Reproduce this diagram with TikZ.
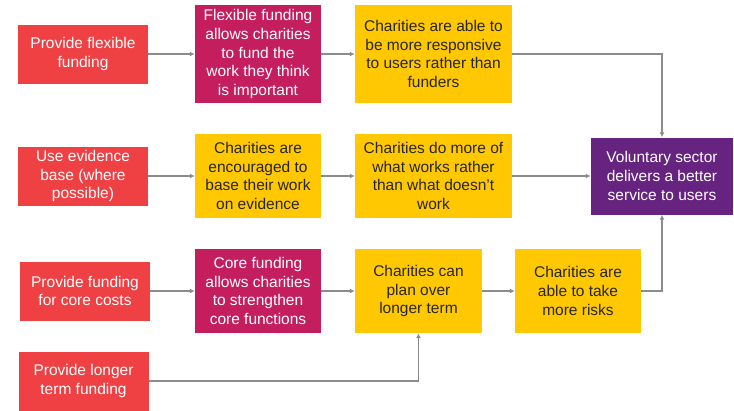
\documentclass[tikz,border=0pt]{standalone}
\usepackage{fontspec}
\setmainfont{Liberation Sans}
\usepackage{xcolor}
\usetikzlibrary{arrows.meta}
\usetikzlibrary{math}
\definecolor{myred}{RGB}{239,64,68}
\definecolor{mymagenta}{RGB}{196,30,94}
\definecolor{myyellow}{RGB}{255,200,0}
\definecolor{mypurple}{RGB}{102,36,128}
\definecolor{mygray}{RGB}{140,140,140}

\begin{document}
\begin{tikzpicture}[x=1pt,y=-1pt,
box/.style={align=center,inner sep=0pt,font=\fontsize{15.5}{18.6}\selectfont,minimum height=84pt},
input/.style={box,fill=myred,text=white,minimum width=130pt,minimum height=59pt},
mech/.style={box,fill=mymagenta,text=white,minimum width=126pt},
result/.style={box,fill=myyellow,text=black!85,minimum width=126pt},
final/.style={box,fill=mypurple,text=white,minimum width=142pt,minimum height=77pt},
link/.style={draw=mygray,line width=1.5pt,-{Latex[length=5pt,width=5pt]}}
]
\tikzmath{
\ra=54;
\rb=176;
\rc=291;
}
\useasboundingbox (0,0) rectangle (734,410);

% inputs
\node[input] (flex) at (83,\ra) {Provide flexible\\funding};
\node[input] (evid) at (83,\rb) {Use evidence\\base (where\\possible)};
\node[input] (core) at (85,\rc) {Provide funding\\for core costs};
\node[input] (long) at (83.5,381) {Provide longer\\term funding};

% middle column
\node[mech,minimum height=98pt] (flexfund) at (258,\ra) {Flexible funding\\allows charities\\to fund the\\work they think\\is important};
\node[result] (encour) at (258,\rb) {Charities are\\encouraged to\\base their work\\on evidence};
\node[mech] (corefund) at (258,\rc) {Core funding\\allows charities\\to strengthen\\core functions};

\node[result,minimum width=157pt,minimum height=98pt] (respons) at (433.5,\ra) {Charities are able to\\be more responsive\\to users rather than\\funders};
\node[result,minimum width=157pt] (works) at (433.5,\rb) {Charities do more of\\what works rather\\than what doesn't\\work};
\node[result,minimum width=127pt] (plan) at (418.5,\rc) {Charities can\\plan over\\longer term};
\node[result] (risks) at (578,\rc) {Charities are\\able to take\\more risks};

\node[final] (better) at (662,\rb) {Voluntary sector\\delivers a better\\service to users};

\draw[link] (flex) -- (flexfund);
\draw[link] (flexfund) -- (respons);
\draw[link] (respons.east) -| (better.north);

\draw[link] (evid) -- (encour);
\draw[link] (encour) -- (works);
\draw[link] (works) -- (better);

\draw[link] (core) -- (corefund);
\draw[link] (corefund) -- (plan);
\draw[link] (plan) -- (risks);
\draw[link] (risks.east) -| (better.south);

\draw[link] (long.east) -| (plan.south);
\end{tikzpicture}
\end{document}
